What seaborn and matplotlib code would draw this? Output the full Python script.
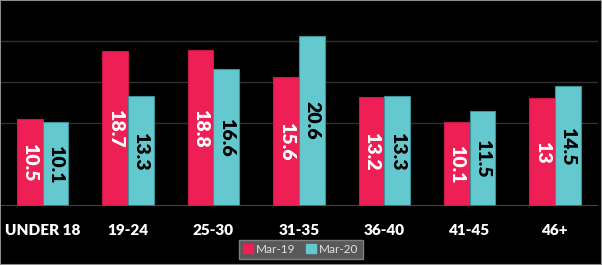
import matplotlib
matplotlib.use("Agg")
import matplotlib.pyplot as plt
import seaborn as sns
import pandas as pd
from matplotlib.patches import Rectangle, Patch

categories = ["UNDER 18", "19-24", "25-30", "31-35", "36-40", "41-45", "46+"]
mar19 = [10.5, 18.7, 18.8, 15.6, 13.2, 10.1, 13]
mar20 = [10.1, 13.3, 16.6, 20.6, 13.3, 11.5, 14.5]
series = ["Mar-19", "Mar-20"]
colors = ["#EE1F55", "#64C9CE"]
edges = ["#C81A48", "#3E9196"]

df = pd.DataFrame({
    "cat": categories * 2,
    "val": mar19 + mar20,
    "series": [series[0]] * len(categories) + [series[1]] * len(categories),
})

sns.set_theme(style="dark")
plt.rcParams['font.family'] = ['Lato', 'DejaVu Sans']

fig = plt.figure(figsize=(6.02, 2.65), dpi=100, facecolor="black")
ax = fig.add_axes([0.0, 0.2226, 0.993, 0.7774])
ax.set_facecolor("black")

sns.barplot(data=df, x="cat", y="val", hue="series", order=categories,
            hue_order=series, palette=colors, width=0.6, ax=ax,
            legend=False, saturation=1)

# edges and labels
for ci, cont in enumerate(ax.containers):
    for bar, v in zip(cont, [mar19, mar20][ci]):
        bar.set_edgecolor(edges[ci])
        bar.set_linewidth(0.8)
        x = bar.get_x() + bar.get_width() / 2
        ax.text(x, v / 2, f"{v:g}", rotation=270, ha="center", va="center",
                color="white" if ci == 0 else "black", fontsize=14,
                fontweight="heavy")

ax.set_xlim(-0.5, 6.5)
ax.set_ylim(0, 24.9)
ax.set_yticks([10, 15, 20])
ax.yaxis.grid(True, color="#303030", linewidth=1)
ax.xaxis.grid(False)
ax.set_axisbelow(True)
ax.tick_params(axis="y", left=False, labelleft=False)
ax.tick_params(axis="x", bottom=False, colors="white", pad=7)
for lab in ax.get_xticklabels():
    lab.set_fontweight("heavy")
    lab.set_fontsize(11)
    lab.set_color("white")
ax.set_xlabel("")
ax.set_ylabel("")
for s in ax.spines.values():
    s.set_visible(False)
ax.axhline(0, color="#555555", linewidth=1.2, zorder=5)

handles = [Patch(facecolor=colors[i], edgecolor=colors[i], label=series[i]) for i in range(2)]
leg = fig.legend(handles=handles, loc="center", bbox_to_anchor=(0.5, 0.0585),
                 ncol=2, frameon=True, fontsize=8.5, handlelength=0.8,
                 handleheight=0.8, handletextpad=0.3, columnspacing=0.9,
                 borderpad=0.35, fancybox=False)
leg.get_frame().set_facecolor("#595959")
leg.get_frame().set_edgecolor("#7F7F7F")
leg.get_frame().set_alpha(1)
for t in leg.get_texts():
    t.set_color("#E0E0E0")

fig.patches.append(Rectangle((0, 0), 1, 1, transform=fig.transFigure,
                             fill=False, edgecolor="#8C8C8C", linewidth=1.5))

fig.savefig("out.png", dpi=100, facecolor="black")
